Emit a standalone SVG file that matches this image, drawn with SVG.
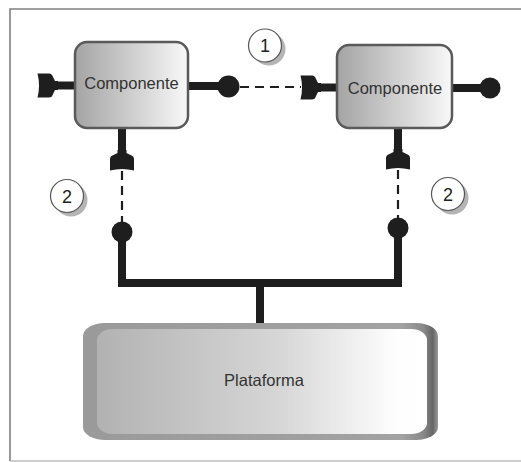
<svg xmlns="http://www.w3.org/2000/svg" width="521" height="462" viewBox="0 0 521 462">
<style>
.lbl{font-family:"Liberation Sans",Arial,sans-serif;font-size:16.5px;fill:#333;text-anchor:middle}
.num{font-family:"Liberation Sans",Arial,sans-serif;font-size:18px;fill:#222;text-anchor:middle}
.comp{fill:url(#gComp);stroke:#5a5a5a;stroke-width:2.5}
.thick{fill:none;stroke:#1e1e1e;stroke-width:8}
.dash{fill:none;stroke:#1e1e1e;stroke-width:2.2;stroke-dasharray:9 6}
.ball{fill:#1e1e1e}
.sock{fill:#1e1e1e}
.badge{fill:#fff;stroke:#555;stroke-width:1.2}
.shadow{fill:#b4b4b4}
</style>
<defs>
<linearGradient id="gComp" x1="0" y1="0" x2="1" y2="0">
<stop offset="0" stop-color="#a4a4a4"/>
<stop offset="1" stop-color="#f8f8f8"/>
</linearGradient>
<linearGradient id="gPlatOut" x1="0" y1="0" x2="1" y2="0">
<stop offset="0" stop-color="#9a9a9a"/>
<stop offset="0.9" stop-color="#a2a2a2"/>
<stop offset="0.96" stop-color="#888"/>
<stop offset="0.985" stop-color="#666"/>
<stop offset="1" stop-color="#9a9a9a"/>
</linearGradient>
<linearGradient id="gPlatIn" x1="0" y1="0" x2="1" y2="0">
<stop offset="0" stop-color="#b2b2b2"/>
<stop offset="0.55" stop-color="#d6d6d6"/>
<stop offset="0.9" stop-color="#fdfdfd"/>
<stop offset="1" stop-color="#ffffff"/>
</linearGradient>
<path id="socket" d="M0,-12 H12 Q15,-12 16,-8.5 L18,-4.5 H21 V4.5 H18 L16,8.5 Q15,12 12,12 H0.5 Q3.5,0 0.5,-12 Z"/>
</defs>

<rect x="0" y="0" width="521" height="462" fill="#fff"/>
<g id="frame">
<path d="M10,461 V9 H521" fill="none" stroke="#808080" stroke-width="1.6"/>
<path d="M10,461 H521" fill="none" stroke="#bdbdbd" stroke-width="1.6"/>
</g>

<g id="connectors">
<line class="thick" x1="57" y1="85.5" x2="75" y2="85.5"/>
<use href="#socket" class="sock" transform="translate(37,85.5)"/>
<line class="thick" x1="188" y1="86" x2="222" y2="86"/>
<circle class="ball" cx="228.5" cy="86.5" r="11"/>
<line class="dash" x1="240" y1="87" x2="301" y2="87"/>
<use href="#socket" class="sock" transform="translate(300,87.5)"/>
<line class="thick" x1="319" y1="87.5" x2="337" y2="87.5"/>
<line class="thick" x1="452" y1="88" x2="484" y2="88"/>
<circle class="ball" cx="490" cy="88" r="10.5"/>

<line class="thick" x1="122" y1="128" x2="122" y2="152"/>
<use href="#socket" class="sock" transform="translate(122,171) rotate(-90)"/>
<line class="dash" x1="122" y1="171" x2="122" y2="222"/>
<circle class="ball" cx="122" cy="232" r="10.5"/>

<line class="thick" x1="398" y1="128" x2="398" y2="151"/>
<use href="#socket" class="sock" transform="translate(398,170) rotate(-90)"/>
<line class="dash" x1="398" y1="170" x2="398" y2="218"/>
<circle class="ball" cx="398" cy="228" r="10.5"/>

<path class="thick" d="M122,232 V283 H398 V228" stroke-width="9"/>
<line class="thick" x1="260" y1="283" x2="260" y2="325" stroke-width="9"/>
</g>

<g id="comp1">
<rect class="comp" x="75" y="42" width="113" height="86" rx="12"/>
<text class="lbl" x="131.5" y="89">Componente</text>
</g>

<g id="comp2">
<rect class="comp" x="337" y="45" width="115" height="83" rx="12"/>
<text class="lbl" x="395" y="94">Componente</text>
</g>

<g id="platform">
<rect x="83" y="323" width="355" height="117" rx="22" ry="13" fill="url(#gPlatOut)"/>
<rect x="97" y="329" width="330" height="105" rx="16" ry="11" fill="url(#gPlatIn)"/>
<text class="lbl" x="264" y="386">Plataforma</text>
</g>

<g id="badge1">
<circle class="shadow" cx="269" cy="49" r="16.5"/>
<circle class="badge" cx="265" cy="45.5" r="16.5"/>
<text class="num" x="265" y="52">1</text>
</g>

<g id="badge2a">
<circle class="shadow" cx="71" cy="200" r="16.5"/>
<circle class="badge" cx="67" cy="196" r="16.5"/>
<text class="num" x="67" y="202.5">2</text>
</g>

<g id="badge2b">
<circle class="shadow" cx="452" cy="198" r="16.5"/>
<circle class="badge" cx="448" cy="194" r="16.5"/>
<text class="num" x="448" y="200.5">2</text>
</g>
</svg>
